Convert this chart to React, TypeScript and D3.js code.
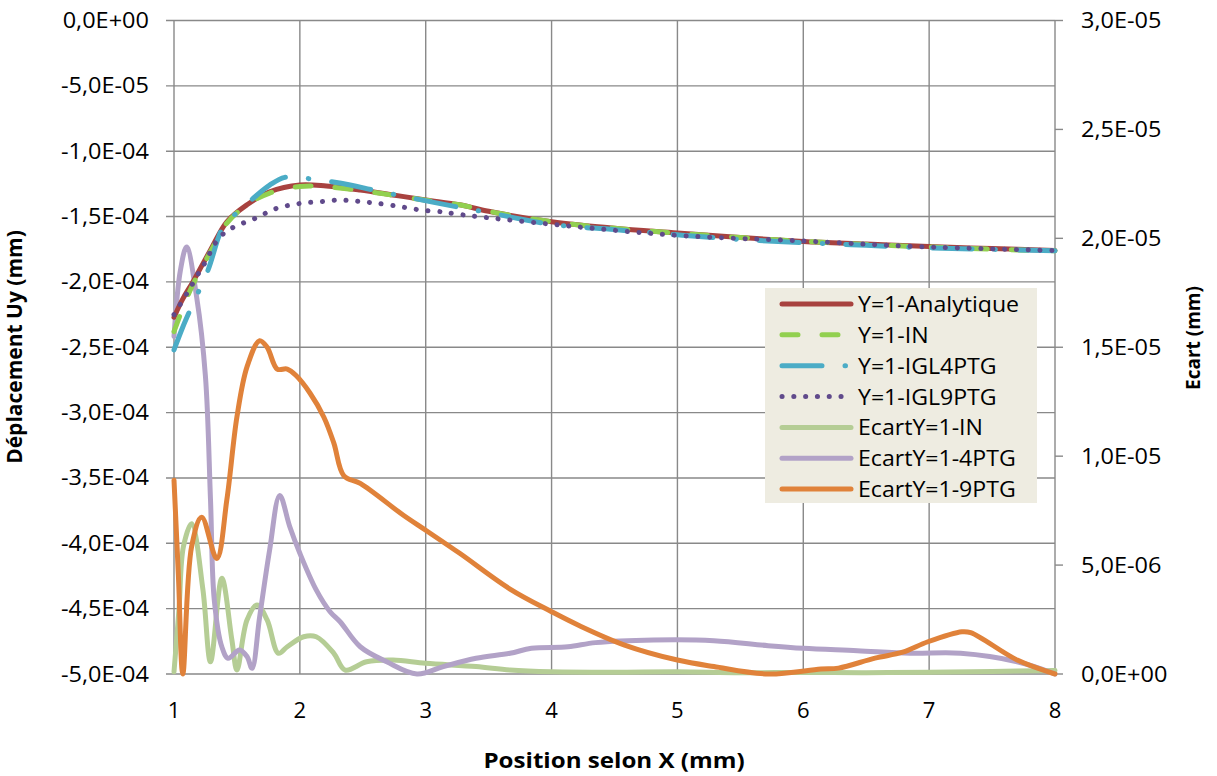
import React from "react";
import * as d3 from "d3";

const W = 1217;
const H = 776;
const PL = 174, PR = 1055, PT = 20.5, PB = 674;

const xTicks = [1, 2, 3, 4, 5, 6, 7, 8];
const leftTicks = [0, -5e-5, -1e-4, -1.5e-4, -2e-4, -2.5e-4, -3e-4, -3.5e-4, -4e-4, -4.5e-4, -5e-4];
const rightTicks = [0, 5e-6, 1e-5, 1.5e-5, 2e-5, 2.5e-5, 3e-5];

// Y=1-Analytique (left axis)
const anaX = [1, 1.07, 1.15, 1.29, 1.42, 1.58, 1.76, 2.0, 2.21, 2.48, 2.74, 3.0, 3.27, 3.5, 4, 4.5, 5, 5.5, 6, 6.5, 7, 7.5, 8];
const anaY = [-2.27e-4, -2.13e-4, -2.0e-4, -1.756e-4, -1.54e-4, -1.41e-4, -1.31e-4, -1.258e-4, -1.266e-4, -1.297e-4, -1.335e-4, -1.373e-4, -1.41e-4, -1.46e-4, -1.54e-4, -1.59e-4, -1.625e-4, -1.66e-4, -1.69e-4, -1.71e-4, -1.73e-4, -1.745e-4, -1.76e-4];

// Y=1-IN
const inX = [1, 1.07, 1.15, 1.29, 1.42, 1.58, 1.76, 2.0, 2.21, 2.48, 2.74, 3.0, 3.27, 3.5, 4, 4.5, 5, 5.5, 6, 6.5, 7, 7.5, 8];
const inY = [-2.38e-4, -2.2e-4, -2.02e-4, -1.77e-4, -1.55e-4, -1.41e-4, -1.32e-4, -1.27e-4, -1.272e-4, -1.3e-4, -1.337e-4, -1.375e-4, -1.41e-4, -1.46e-4, -1.54e-4, -1.59e-4, -1.627e-4, -1.66e-4, -1.69e-4, -1.713e-4, -1.733e-4, -1.75e-4, -1.762e-4];

// Y=1-IGL4PTG
const g4X = [1, 1.07, 1.135, 1.27, 1.39, 1.5, 1.63, 1.76, 1.88, 2.07, 2.4, 2.58, 2.9, 3.27, 3.5, 4, 4.5, 5, 5.5, 6, 6.5, 7, 7.5, 8];
const g4Y = [-2.52e-4, -2.345e-4, -2.2e-4, -1.91e-4, -1.58e-4, -1.47e-4, -1.36e-4, -1.26e-4, -1.2e-4, -1.21e-4, -1.258e-4, -1.297e-4, -1.36e-4, -1.43e-4, -1.47e-4, -1.56e-4, -1.6e-4, -1.64e-4, -1.675e-4, -1.7e-4, -1.72e-4, -1.74e-4, -1.752e-4, -1.762e-4];

// Y=1-IGL9PTG
const g9X = [1, 1.12, 1.21, 1.26, 1.3, 1.35, 1.42, 1.5, 1.59, 1.68, 1.76, 1.85, 1.94, 2.03, 2.12, 2.22, 2.31, 2.4, 2.49, 2.59, 2.77, 2.96, 3.14, 3.24, 3.5, 3.98, 4.44, 5.1, 5.95, 6.91, 8];
const g9Y = [-2.25e-4, -2.06e-4, -1.91e-4, -1.83e-4, -1.75e-4, -1.674e-4, -1.61e-4, -1.57e-4, -1.534e-4, -1.5e-4, -1.458e-4, -1.427e-4, -1.41e-4, -1.396e-4, -1.389e-4, -1.381e-4, -1.373e-4, -1.378e-4, -1.386e-4, -1.396e-4, -1.42e-4, -1.45e-4, -1.465e-4, -1.48e-4, -1.51e-4, -1.557e-4, -1.6e-4, -1.65e-4, -1.685e-4, -1.73e-4, -1.76e-4];

// EcartY=1-IN (right axis)
const eInX = [1, 1.04, 1.075, 1.14, 1.23, 1.29, 1.38, 1.46, 1.5, 1.58, 1.66, 1.74, 1.83, 1.9, 2.03, 2.13, 2.27, 2.36, 2.53, 2.74, 3.0, 3.4, 3.67, 4, 4.5, 5, 5.5, 6, 6.5, 7, 7.5, 8];
const eInY = [0.01e-5, 0.3e-5, 0.585e-5, 0.69e-5, 0.386e-5, 0.056e-5, 0.44e-5, 0.156e-5, 0.018e-5, 0.248e-5, 0.317e-5, 0.248e-5, 0.095e-5, 0.125e-5, 0.171e-5, 0.171e-5, 0.095e-5, 0.018e-5, 0.056e-5, 0.064e-5, 0.049e-5, 0.034e-5, 0.018e-5, 0.01e-5, 0.008e-5, 0.01e-5, 0.006e-5, 0.007e-5, 0.006e-5, 0.008e-5, 0.012e-5, 0.016e-5];

// EcartY=1-4PTG
const e4X = [1, 1.05, 1.1, 1.18, 1.25, 1.29, 1.32, 1.38, 1.43, 1.52, 1.58, 1.62, 1.68, 1.76, 1.84, 1.92, 2.0, 2.13, 2.24, 2.32, 2.48, 2.69, 2.93, 3.14, 3.4, 3.67, 3.84, 4.13, 4.35, 4.81, 5.29, 5.72, 6.0, 6.43, 6.85, 7.25, 7.7, 8];
const e4Y = [1.55e-5, 1.85e-5, 1.96e-5, 1.73e-5, 1.365e-5, 0.8e-5, 0.34e-5, 0.125e-5, 0.072e-5, 0.11e-5, 0.08e-5, 0.026e-5, 0.26e-5, 0.57e-5, 0.82e-5, 0.676e-5, 0.554e-5, 0.386e-5, 0.286e-5, 0.24e-5, 0.125e-5, 0.056e-5, 0, 0.034e-5, 0.072e-5, 0.095e-5, 0.118e-5, 0.125e-5, 0.144e-5, 0.156e-5, 0.153e-5, 0.13e-5, 0.118e-5, 0.107e-5, 0.095e-5, 0.095e-5, 0.056e-5, 0];

// EcartY=1-9PTG
const e9X = [1, 1.035, 1.07, 1.14, 1.22, 1.34, 1.42, 1.5, 1.58, 1.68, 1.74, 1.82, 1.9, 1.97, 2.08, 2.19, 2.27, 2.35, 2.48, 2.82, 3.0, 3.27, 3.67, 4.0, 4.21, 4.58, 5.0, 5.29, 5.72, 6.14, 6.28, 6.57, 6.79, 6.99, 7.26, 7.33, 7.7, 8];
const e9Y = [0.89e-5, 0.45e-5, 0, 0.585e-5, 0.72e-5, 0.53e-5, 0.8e-5, 1.18e-5, 1.41e-5, 1.53e-5, 1.5e-5, 1.4e-5, 1.4e-5, 1.37e-5, 1.29e-5, 1.18e-5, 1.06e-5, 0.91e-5, 0.875e-5, 0.73e-5, 0.66e-5, 0.554e-5, 0.39e-5, 0.286e-5, 0.225e-5, 0.133e-5, 0.064e-5, 0.034e-5, 0, 0.023e-5, 0.027e-5, 0.073e-5, 0.1e-5, 0.148e-5, 0.194e-5, 0.19e-5, 0.064e-5, 0];

const FONT = "'Open Sans', 'Noto Sans', sans-serif";
const SX = 1.12;

type S = { name: string; xs: number[]; ys: number[]; axis: "L" | "R"; color: string; dash?: string; width: number };

const series: S[] = [
  { name: "Y=1-Analytique", xs: anaX, ys: anaY, axis: "L", color: "#A8423F", width: 5 },
  { name: "Y=1-IN", xs: inX, ys: inY, axis: "L", color: "#92D050", dash: "16 24", width: 5 },
  { name: "Y=1-IGL4PTG", xs: g4X, ys: g4Y, axis: "L", color: "#4BACC6", dash: "40 23 0.5 23", width: 5 },
  { name: "Y=1-IGL9PTG", xs: g9X, ys: g9Y, axis: "L", color: "#604A8B", dash: "0.1 11.7", width: 5 },
  { name: "EcartY=1-IN", xs: eInX, ys: eInY, axis: "R", color: "#B5CD95", width: 5 },
  { name: "EcartY=1-4PTG", xs: e4X, ys: e4Y, axis: "R", color: "#B2A2C7", width: 5 },
  { name: "EcartY=1-9PTG", xs: e9X, ys: e9Y, axis: "R", color: "#E0823A", width: 5 },
];

function fmt(v: number): string {
  if (v === 0) return "0,0E+00";
  const [m, e] = v.toExponential(1).split("e");
  const en = parseInt(e, 10);
  return m.replace(".", ",") + "E" + (en < 0 ? "-" : "+") + String(Math.abs(en)).padStart(2, "0");
}

function T(props: { x: number; y: number; anchor?: string; size: number; bold?: boolean; sx?: number; children: React.ReactNode }) {
  const { x, y, anchor = "start", size, bold, sx = SX, children } = props;
  return (
    <text transform={`translate(${x},${y}) scale(${sx},1)`} textAnchor={anchor as any} fontSize={size} fontWeight={bold ? "bold" : "normal"} fill="#000">
      {children}
    </text>
  );
}

export default function App() {
  const x = d3.scaleLinear().domain([1, 8]).range([PL, PR]);
  const yL = d3.scaleLinear().domain([-5e-4, 0]).range([PB, PT]);
  const yR = d3.scaleLinear().domain([0, 3e-5]).range([PB, PT]);
  const mk = (s: S) => {
    const y = s.axis === "L" ? yL : yR;
    const pts: [number, number][] = s.xs.map((v, i) => [v, s.ys[i]]);
    return d3
      .line<[number, number]>()
      .x((d) => x(d[0]))
      .y((d) => y(d[1]))
      .curve(d3.curveCatmullRom.alpha(0.5))(pts) as string;
  };
  const grid = "#898989";
  const lgX = 765, lgY = 288, lgW = 272, lgH = 215;
  const order = [4, 5, 6, 0, 1, 2, 3];
  return (
    <svg width={W} height={H} style={{ position: "fixed", left: 0, top: 0, background: "#fff" }} fontFamily={FONT}>
      <rect x={0} y={0} width={W} height={H} fill="#fff" />
      {leftTicks.map((t) => (
        <line key={"h" + t} x1={PL - 8} x2={PR} y1={yL(t)} y2={yL(t)} stroke={grid} strokeWidth={1.4} />
      ))}
      {xTicks.map((t) => (
        <line key={"v" + t} x1={x(t)} x2={x(t)} y1={PT} y2={PB} stroke={grid} strokeWidth={1.4} />
      ))}
      {rightTicks.map((t) => (
        <line key={"r" + t} x1={PR} x2={PR + 8} y1={yR(t)} y2={yR(t)} stroke={grid} strokeWidth={1.4} />
      ))}
      {leftTicks.map((t) => (
        <T key={"lt" + t} x={149} y={yL(t) + 7.5} anchor="end" size={21}>{fmt(t)}</T>
      ))}
      {rightTicks.map((t) => (
        <T key={"rt" + t} x={1081} y={yR(t) + 7.5} size={21}>{fmt(t)}</T>
      ))}
      {xTicks.map((t) => (
        <T key={"xt" + t} x={x(t)} y={718} anchor="middle" size={21} sx={1.05}>{t}</T>
      ))}
      <T x={614} y={768} anchor="middle" size={21} bold sx={1.15}>Position selon X (mm)</T>
      <text transform="translate(22,347) rotate(-90)" textAnchor="middle" fontSize={21} fontWeight="bold" fill="#000">Déplacement Uy (mm)</text>
      <text transform="translate(1200,338) rotate(-90)" textAnchor="middle" fontSize={19} fontWeight="bold" fill="#000">Ecart (mm)</text>
      {order.map((i) => {
        const s = series[i];
        return (
          <path key={s.name} d={mk(s)} fill="none" stroke={s.color} strokeWidth={s.width} strokeDasharray={s.dash} strokeLinecap="round" strokeLinejoin="round" />
        );
      })}
      <rect x={lgX} y={lgY} width={lgW} height={lgH} fill="#EEECE1" />
      {series.map((s, i) => {
        const cy = 304 + i * 30.85;
        return (
          <g key={"lg" + s.name}>
            <line x1={782} x2={851} y1={cy} y2={cy} stroke={s.color} strokeWidth={s.width} strokeDasharray={s.dash} strokeLinecap="round" />
            <T x={858} y={cy + 8} size={21} sx={1.1}>{s.name}</T>
          </g>
        );
      })}
    </svg>
  );
}
